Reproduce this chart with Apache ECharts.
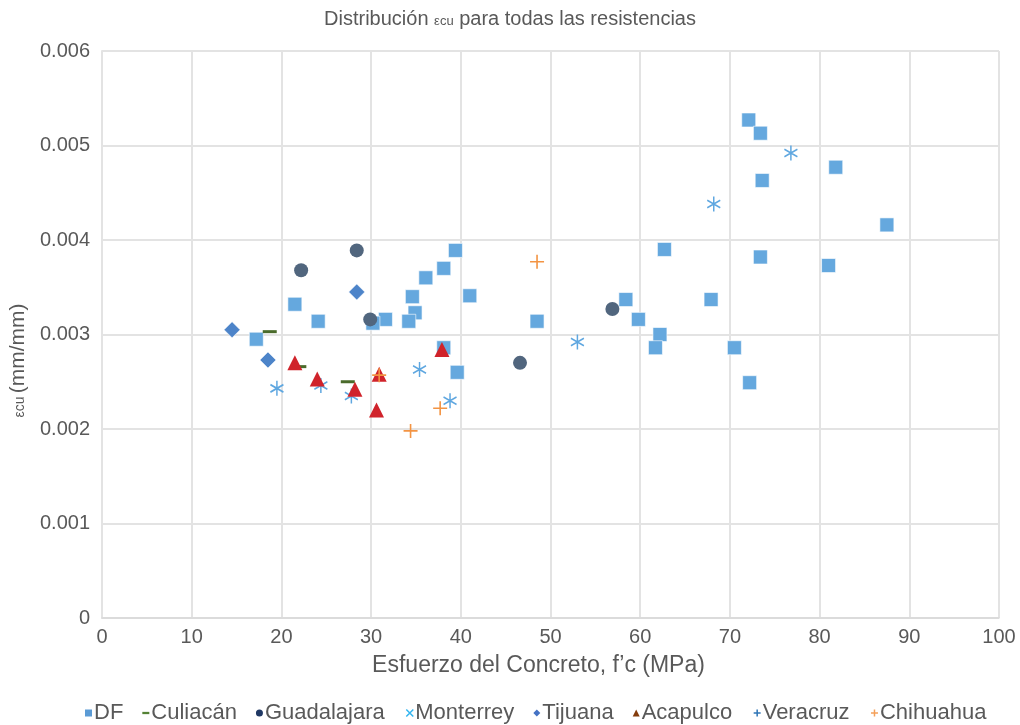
<!DOCTYPE html>
<html>
<head>
<meta charset="utf-8">
<script src="https://cdn.jsdelivr.net/npm/echarts@6/dist/echarts.min.js"></script>
<style>
  html, body { margin: 0; padding: 0; background: #fff; }
  #main { width: 1020px; height: 725px; }
</style>
</head>
<body>
<div id="main"></div>
<script>
// values
const dfX = [72.1, 73.4, 81.8, 73.6, 87.5, 62.7, 73.4, 81.0, 58.4, 67.9, 48.5, 59.8, 62.2, 61.7, 70.5, 72.2,
  39.4, 38.1, 36.1, 41.0, 34.6, 21.5, 24.1, 31.6, 34.9, 34.2, 30.2, 17.2, 38.1, 39.6];
const dfY = [0.00527, 0.00513, 0.00477, 0.00463, 0.00416, 0.00390, 0.00382, 0.00373, 0.00337, 0.00337, 0.00314, 0.00316, 0.00300, 0.00286, 0.00286, 0.00249,
  0.00389, 0.00370, 0.00360, 0.00341, 0.00340, 0.00332, 0.00314, 0.00316, 0.00323, 0.00314, 0.00312, 0.00295, 0.00286, 0.00260];
const culiacanX = [18.7, 22.0, 27.4];
const culiacanY = [0.00303, 0.00266, 0.00250];
const guadalajaraX = [28.4, 22.2, 29.9, 56.9, 46.6];
const guadalajaraY = [0.00389, 0.00368, 0.00316, 0.00327, 0.00270];
const monterreyX = [19.5, 24.4, 27.8, 35.4, 38.8, 53.0, 68.2, 76.8];
const monterreyY = [0.00243, 0.00246, 0.00235, 0.00263, 0.00230, 0.00292, 0.00438, 0.00492];
const tijuanaX = [14.5, 28.4, 18.5];
const tijuanaY = [0.00305, 0.00345, 0.00273];
const acapulcoX = [21.5, 24.0, 28.2, 30.9, 30.6, 37.9];
const acapulcoY = [0.00270, 0.00253, 0.00242, 0.00258, 0.00220, 0.00284];
const veracruzX = [];
const veracruzY = [];
const chihuahuaX = [30.9, 37.7, 34.4, 48.5];
const chihuahuaY = [0.00257, 0.00222, 0.00198, 0.00377];

const seriesNames = ['DF', 'Culiacán', 'Guadalajara', 'Monterrey', 'Tijuana', 'Acapulco', 'Veracruz', 'Chihuahua'];
const xTicks = [0, 10, 20, 30, 40, 50, 60, 70, 80, 90, 100];
const yTicks = [0, 0.001, 0.002, 0.003, 0.004, 0.005, 0.006];

const PLUS = 'path://M0,-1L0,1M-1,0L1,0';
const STAR = 'path://M0,-1L0,1M-0.87,-0.5L0.87,0.5M-0.87,0.5L0.87,-0.5';
const FONT = '"Liberation Sans", Arial, sans-serif';
const GREY = '#595959';

function pairs(xs, ys) {
  return xs.map((x, i) => [x, ys[i]]);
}

let chart = echarts.init(document.getElementById('main'), null, { renderer: 'canvas' });

const options = {
  backgroundColor: '#fff',
  animation: false,
  title: {
    text: '{a|Distribución }{s|εcu}{a| para todas las resistencias}',
    left: 'center',
    top: 4,
    textStyle: {
      fontWeight: 'normal',
      rich: {
        a: { fontFamily: FONT, fontSize: 20, fontWeight: 'normal', color: GREY },
        s: { fontFamily: FONT, fontSize: 13, fontWeight: 'normal', color: GREY, padding: [4, 0, 0, 0] }
      }
    }
  },
  legend: {
    top: 697,
    left: 80,
    itemWidth: 7,
    itemHeight: 7,
    itemGap: 19,
    textStyle: { fontFamily: FONT, fontSize: 22, color: GREY, padding: [0, 0, 0, -3] },
    data: [
      { name: 'DF', icon: 'rect', itemStyle: { color: '#5b9bd5', borderWidth: 0 } },
      { name: 'Culiacán', icon: 'path://M0,0L4,0L4,1.3L0,1.3Z', itemStyle: { color: '#548235', borderWidth: 0 } },
      { name: 'Guadalajara', icon: 'circle', itemStyle: { color: '#203864', borderWidth: 0 } },
      { name: 'Monterrey', icon: 'path://M-1,-1L1,1M-1,1L1,-1', itemStyle: { color: 'none', borderColor: '#33b5f0', borderWidth: 1.5 } },
      { name: 'Tijuana', icon: 'diamond', itemStyle: { color: '#4472c4', borderWidth: 0 } },
      { name: 'Acapulco', icon: 'triangle', itemStyle: { color: '#843c0c', borderWidth: 0 } },
      { name: 'Veracruz', icon: PLUS, itemStyle: { color: 'none', borderColor: '#2e75b6', borderWidth: 1.5 } },
      { name: 'Chihuahua', icon: PLUS, itemStyle: { color: 'none', borderColor: '#f4a05a', borderWidth: 1.5 } }
    ]
  },
  grid: {
    left: 102,
    right: 21,
    top: 51,
    bottom: 107,
    outerBoundsMode: 'none'
  },
  xAxis: {
    type: 'value',
    min: 0,
    max: 100,
    interval: 10,
    name: 'Esfuerzo del Concreto, f’c (MPa)',
    nameLocation: 'middle',
    nameGap: 36,
    nameTextStyle: { fontFamily: FONT, fontSize: 23, color: GREY, padding: [0, 24, 0, 0] },
    axisLine: { show: true, lineStyle: { color: '#d9d9d9', width: 1.5 } },
    axisTick: { show: false },
    axisLabel: { fontFamily: FONT, fontSize: 20, color: GREY, margin: 9 },
    splitLine: { show: true, lineStyle: { color: '#e3e3e3', width: 2 } }
  },
  yAxis: {
    type: 'value',
    min: 0,
    max: 0.006,
    interval: 0.001,
    name: '{s|εcu} {a|(mm/mm)}',
    nameLocation: 'middle',
    nameGap: 67,
    nameRotate: 90,
    nameTextStyle: {
      padding: [0, 52, 0, 0],
      rich: {
        a: { fontFamily: FONT, fontSize: 21, color: GREY },
        s: { fontFamily: FONT, fontSize: 14, color: GREY, padding: [4, 0, 0, 0] }
      }
    },
    axisLine: { show: true, lineStyle: { color: '#e3e3e3', width: 2 } },
    axisTick: { show: false },
    axisLabel: {
      fontFamily: FONT, fontSize: 20, color: GREY, margin: 12,
      formatter: v => v === 0 ? '0' : v.toFixed(3)
    },
    splitLine: { show: true, lineStyle: { color: '#e3e3e3', width: 2 } }
  },
  series: [{
    name: 'DF',
    type: 'scatter',
    symbol: 'rect',
    symbolSize: 14,
    itemStyle: { color: '#65a8de', opacity: 1, borderColor: 'rgba(255,255,255,0.6)', borderWidth: 1 },
    data: pairs(dfX, dfY)
  }, {
    name: 'Culiacán',
    type: 'scatter',
    symbol: 'rect',
    symbolSize: [14, 3],
    itemStyle: { color: '#4a6b2b', opacity: 1 },
    data: pairs(culiacanX, culiacanY)
  }, {
    name: 'Guadalajara',
    type: 'scatter',
    symbol: 'circle',
    symbolSize: 14,
    itemStyle: { color: '#51667e', opacity: 1 },
    data: pairs(guadalajaraX, guadalajaraY)
  }, {
    name: 'Monterrey',
    type: 'scatter',
    symbol: STAR,
    symbolSize: [13, 15],
    itemStyle: { color: 'none', opacity: 1, borderColor: '#5fa7e0', borderWidth: 1.6 },
    data: pairs(monterreyX, monterreyY)
  }, {
    name: 'Tijuana',
    type: 'scatter',
    symbol: 'diamond',
    symbolSize: 16,
    itemStyle: { color: '#4d84c9', opacity: 1, borderColor: 'rgba(255,255,255,0.5)', borderWidth: 1 },
    data: pairs(tijuanaX, tijuanaY)
  }, {
    name: 'Acapulco',
    type: 'scatter',
    symbol: 'triangle',
    symbolSize: [15, 15],
    itemStyle: { color: '#d0232b', opacity: 1 },
    data: pairs(acapulcoX, acapulcoY)
  }, {
    name: 'Veracruz',
    type: 'scatter',
    symbol: PLUS,
    symbolSize: 13,
    itemStyle: { color: 'none', opacity: 1, borderColor: '#2e75b6', borderWidth: 1.6 },
    data: pairs(veracruzX, veracruzY)
  }, {
    name: 'Chihuahua',
    type: 'scatter',
    symbol: PLUS,
    symbolSize: 14,
    itemStyle: { color: 'none', opacity: 1, borderColor: '#f39443', borderWidth: 1.6 },
    data: pairs(chihuahuaX, chihuahuaY)
  }]
};

chart.setOption(options);
</script>
</body>
</html>
